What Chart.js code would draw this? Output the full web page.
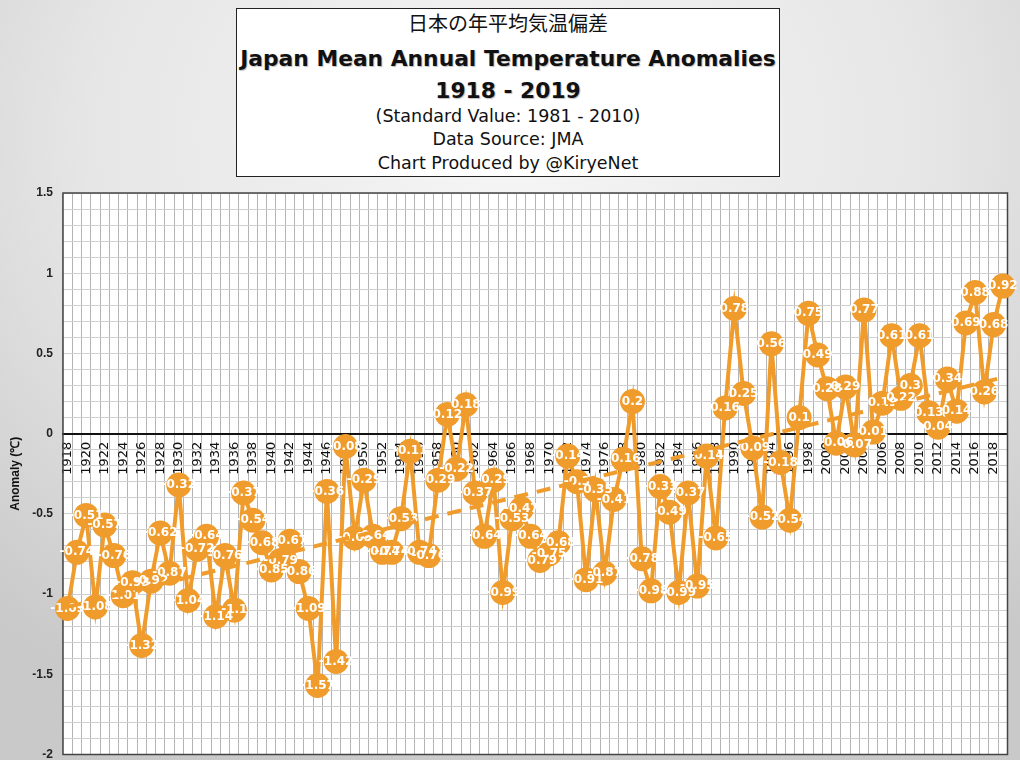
<!DOCTYPE html>
<html>
<head>
<meta charset="utf-8">
<script src="https://cdn.jsdelivr.net/npm/chart.js@4.4.1/dist/chart.umd.min.js"></script>
<style>
  html, body { margin: 0; padding: 0; }
  body {
    width: 1020px; height: 760px; overflow: hidden; position: relative;
    background: radial-gradient(ellipse 75% 85% at 50% 18%, #f6f6f6 0%, #e6e6e6 55%, #c9c9c9 100%);
    font-family: "DejaVu Sans", Verdana, sans-serif;
  }
  #wrap { position: absolute; left: 0; top: 0; width: 1020px; height: 760px; overflow: hidden; }
  #wrap canvas { display: block; }
  #titlebox {
    position: absolute; left: 236px; top: 8px; width: 542px; height: 167px;
    background: #fff; border: 1px solid #222; color: #111; text-align: center;
  }
  #titlebox div { position: absolute; left: 0; right: 0; line-height: 26px; height: 26px; white-space: nowrap; }
  .jp { top: 1px; font-family: "Noto Sans CJK JP", sans-serif; font-size: 20px; }
  .big { font-weight: bold; font-size: 21.8px; text-shadow: 1px 1px 1px rgba(0,0,0,0.25); }
  .sub { font-size: 17.5px; }
</style>
</head>
<body>
<div id="wrap"><canvas id="chart" width="1020" height="767"></canvas></div>
<div id="titlebox">
  <div class="jp">日本の年平均気温偏差</div>
  <div class="big" style="top:37px">Japan Mean Annual Temperature Anomalies</div>
  <div class="big" style="top:69px">1918 - 2019</div>
  <div class="sub" style="top:94px">(Standard Value: 1981 - 2010)</div>
  <div class="sub" style="top:117px">Data Source: JMA</div>
  <div class="sub" style="top:141px">Chart Produced by @KiryeNet</div>
</div>
<script>
'use strict';

var years = ['1918', '1919', '1920', '1921', '1922', '1923', '1924', '1925', '1926', '1927',
  '1928', '1929', '1930', '1931', '1932', '1933', '1934', '1935', '1936', '1937',
  '1938', '1939', '1940', '1941', '1942', '1943', '1944', '1945', '1946', '1947',
  '1948', '1949', '1950', '1951', '1952', '1953', '1954', '1955', '1956', '1957',
  '1958', '1959', '1960', '1961', '1962', '1963', '1964', '1965', '1966', '1967',
  '1968', '1969', '1970', '1971', '1972', '1973', '1974', '1975', '1976', '1977',
  '1978', '1979', '1980', '1981', '1982', '1983', '1984', '1985', '1986', '1987',
  '1988', '1989', '1990', '1991', '1992', '1993', '1994', '1995', '1996', '1997',
  '1998', '1999', '2000', '2001', '2002', '2003', '2004', '2005', '2006', '2007',
  '2008', '2009', '2010', '2011', '2012', '2013', '2014', '2015', '2016', '2017',
  '2018', '2019'];

var anomalies = [-1.09, -0.74, -0.51, -1.08, -0.57, -0.76, -1.01, -0.93, -1.32, -0.92,
  -0.62, -0.87, -0.32, -1.04, -0.72, -0.64, -1.14, -0.76, -1.1, -0.37,
  -0.54, -0.68, -0.85, -0.79, -0.67, -0.86, -1.09, -1.57, -0.36, -1.42,
  -0.08, -0.65, -0.29, -0.64, -0.74, -0.74, -0.53, -0.11, -0.74, -0.76,
  -0.29, 0.12, -0.22, 0.18, -0.37, -0.64, -0.29, -0.99, -0.53, -0.47,
  -0.64, -0.79, -0.75, -0.68, -0.14, -0.3, -0.91, -0.35, -0.87, -0.41,
  -0.16, 0.2, -0.78, -0.98, -0.33, -0.49, -0.99, -0.37, -0.95, -0.14,
  -0.65, 0.16, 0.78, 0.25, -0.09, -0.52, 0.56, -0.18, -0.54, 0.1,
  0.75, 0.49, 0.28, -0.06, 0.29, -0.07, 0.77, 0.01, 0.19, 0.61,
  0.22, 0.3, 0.61, 0.13, 0.04, 0.34, 0.14, 0.69, 0.88, 0.26,
  0.68, 0.92];

// dashed trend line: only the two end values
var trendStart = -1.08;
var trendEnd = 0.35;

var yMin = -2;
var yMax = 1.5;

var orange = '#F09C2C';

var trend = years.map(function(y, i) {
  if (i === 0) return trendStart;
  if (i === years.length - 1) return trendEnd;
  return null;
});

function fmt(v) {
  return String(Math.round(v * 100) / 100);
}

// keep the plot area exactly where the layout padding puts it
function noPadding(scale) {
  scale.getPadding = function() {
    return { left: 0, top: 0, right: 0, bottom: 0 };
  };
}

// white plot area and dark frame
var plotFrame = {
  id: 'plotFrame',
  beforeDraw: function(chart) {
    var a = chart.chartArea, ctx = chart.ctx;
    ctx.save();
    ctx.fillStyle = '#ffffff';
    ctx.fillRect(a.left, a.top, a.right - a.left, a.bottom - a.top);
    ctx.restore();
  },
  beforeDatasetsDraw: function(chart) {
    var a = chart.chartArea, ctx = chart.ctx;
    ctx.save();
    ctx.strokeStyle = '#444';
    ctx.lineWidth = 1.5;
    ctx.strokeRect(a.left, a.top, a.right - a.left, a.bottom - a.top);
    ctx.restore();
  }
};

// white value labels inside the points
var pointLabels = {
  id: 'pointLabels',
  afterDatasetDraw: function(chart, args) {
    if (args.index !== 1) return;
    var ctx = chart.ctx;
    var meta = chart.getDatasetMeta(1);
    ctx.save();
    ctx.font = 'bold 12px "DejaVu Sans", Verdana, sans-serif';
    ctx.fillStyle = '#ffffff';
    ctx.textAlign = 'center';
    ctx.textBaseline = 'middle';
    meta.data.forEach(function(pt, i) {
      ctx.fillText(fmt(anomalies[i]), pt.x, pt.y);
    });
    ctx.restore();
  }
};

var ctx = document.getElementById('chart');
var chart = new Chart(ctx, {
  type: 'line',
  data: {
    labels: years,
    datasets: [{
        label: 'Trend',
        data: trend,
        spanGaps: true,
        borderColor: orange,
        borderWidth: 4,
        borderDash: [14, 9],
        pointRadius: 0,
        fill: false,
        order: 0
      },
      {
        label: 'Anomaly',
        data: anomalies,
        borderColor: orange,
        backgroundColor: orange,
        borderWidth: 4,
        pointRadius: 12.5,
        pointBackgroundColor: orange,
        pointBorderColor: orange,
        pointBorderWidth: 0,
        tension: 0,
        fill: false,
        order: 1
      }
    ]
  },
  options: {
    responsive: false,
    animation: false,
    devicePixelRatio: 1,
    layout: {
      padding: { top: 193, right: 7, bottom: 6, left: 0 }
    },
    plugins: {
      legend: { display: false },
      tooltip: { enabled: false },
      title: { display: false }
    },
    scales: {
      x: {
        type: 'category',
        position: { y: 0 },
        offset: true,
        grid: { offset: true, color: '#b4b4b4', lineWidth: 1, drawTicks: false },
        border: { display: true, color: '#111', width: 2 },
        ticks: {
          autoSkip: false,
          minRotation: 90,
          maxRotation: 90,
          padding: 8,
          color: '#111',
          font: { family: '"DejaVu Sans", Verdana, sans-serif', size: 13 },
          callback: function(v, i) {
            return i % 2 === 0 ? years[i] : '';
          }
        },
        afterFit: noPadding
      },
      y: {
        min: yMin,
        max: yMax,
        grid: { color: '#cfcfcf', lineWidth: 1, drawTicks: false },
        border: { display: false },
        ticks: {
          stepSize: 0.1,
          autoSkip: false,
          padding: 10,
          color: '#222',
          font: { family: '"Liberation Sans", Arial, sans-serif', size: 12, weight: 'bold' },
          callback: function(v) {
            var t = Math.round(v * 10);
            return t % 5 === 0 ? String(t / 10) : '';
          }
        },
        title: {
          display: true,
          text: 'Anomaly (℃)',
          color: '#111',
          padding: { top: 8, bottom: 2 },
          font: { family: '"Liberation Sans", Arial, sans-serif', size: 12, weight: 'bold' }
        },
        afterFit: function(scale) {
          scale.width = 63;
          noPadding(scale);
        }
      }
    }
  },
  plugins: [plotFrame, pointLabels]
});
</script>
</body>
</html>
